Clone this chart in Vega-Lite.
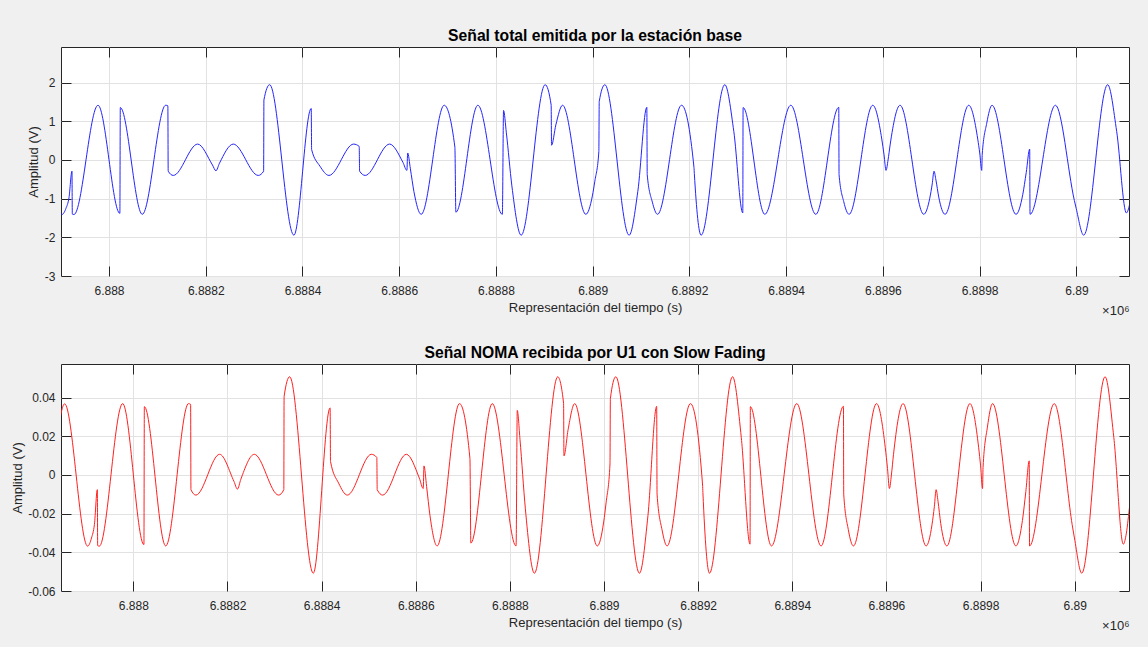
{
  "$schema": "https://vega.github.io/schema/vega-lite/v6.json",
  "background": "#f0f0f0",
  "padding": {"left": 10, "top": 27, "right": 20, "bottom": 14},
  "spacing": 26,
  "config": {
    "font": "Liberation Sans",
    "view": {"fill": "white", "stroke": "#262626", "strokeWidth": 1},
    "axis": {
      "labelFont": "Liberation Sans", "labelFontSize": 12, "labelColor": "#262626",
      "titleFont": "Liberation Sans", "titleFontSize": 13, "titleFontWeight": "normal", "titleColor": "#262626",
      "gridColor": "#e2e2e2", "gridWidth": 1, "tickColor": "#262626", "tickWidth": 1, "domain": false
    },
    "title": {"font": "Liberation Sans", "fontSize": 15.7, "fontWeight": "bold", "color": "#000000", "offset": 2}
  },
  "datasets": {
    "sig": [
      {"t": 6.88784, "a": 0.88, "b": 0.023},
      {"t": 6.887854, "a": 1.41, "b": 0.0368},
      {"t": 6.8879029, "a": -1.41, "b": -0.0368},
      {"t": 6.8879111, "a": -1.25, "b": -0.0326},
      {"t": 6.8879173, "a": -0.98, "b": -0.0256},
      {"t": 6.8879235, "a": -0.29, "b": -0.0076},
      {"t": 6.8879242, "a": -1.4, "b": -0.0365},
      {"t": 6.8879277, "a": -1.41, "b": -0.0368},
      {"t": 6.8879773, "a": 1.414, "b": 0.0369},
      {"t": 6.8880225, "a": -1.38, "b": -0.036},
      {"t": 6.8880234, "a": 1.354, "b": 0.0353},
      {"t": 6.8880688, "a": -1.405, "b": -0.0367},
      {"t": 6.8881172, "a": 1.414, "b": 0.0369},
      {"t": 6.8881217, "a": 1.4, "b": 0.0365},
      {"t": 6.8881224, "a": -0.29, "b": -0.0076},
      {"t": 6.8881329, "a": -0.4, "b": -0.0104},
      {"t": 6.8881833, "a": 0.41, "b": 0.0107},
      {"t": 6.8882139, "a": -0.13, "b": -0.0034},
      {"t": 6.8882211, "a": -0.28, "b": -0.0073},
      {"t": 6.8882284, "a": -0.085, "b": -0.0022},
      {"t": 6.8882569, "a": 0.41, "b": 0.0107},
      {"t": 6.8883086, "a": -0.4, "b": -0.0104},
      {"t": 6.8883197, "a": -0.29, "b": -0.0076},
      {"t": 6.8883203, "a": 1.55, "b": 0.0405},
      {"t": 6.8883321, "a": 1.945, "b": 0.0508},
      {"t": 6.8883823, "a": -1.945, "b": -0.0508},
      {"t": 6.8884181, "a": 1.33, "b": 0.0347},
      {"t": 6.8884189, "a": 0.27, "b": 0.007},
      {"t": 6.8884361, "a": -0.16, "b": -0.0042},
      {"t": 6.8884547, "a": -0.4, "b": -0.0104},
      {"t": 6.8885057, "a": 0.41, "b": 0.0107},
      {"t": 6.8885173, "a": 0.35, "b": 0.0091},
      {"t": 6.8885181, "a": -0.29, "b": -0.0076},
      {"t": 6.8885297, "a": -0.4, "b": -0.0104},
      {"t": 6.8885801, "a": 0.41, "b": 0.0107},
      {"t": 6.8886076, "a": -0.06, "b": -0.0016},
      {"t": 6.8886159, "a": -0.27, "b": -0.007},
      {"t": 6.8886175, "a": 0.18, "b": 0.0047},
      {"t": 6.8886231, "a": -0.23, "b": -0.006},
      {"t": 6.8886303, "a": -0.81, "b": -0.0211},
      {"t": 6.8886454, "a": -1.405, "b": -0.0367},
      {"t": 6.888693, "a": 1.414, "b": 0.0369},
      {"t": 6.8887151, "a": 0.33, "b": 0.0086},
      {"t": 6.8887171, "a": -1.35, "b": -0.0352},
      {"t": 6.8887626, "a": 1.414, "b": 0.0369},
      {"t": 6.8888132, "a": -1.405, "b": -0.0367},
      {"t": 6.8888157, "a": 1.28, "b": 0.0334},
      {"t": 6.8888215, "a": 0.7, "b": 0.0183},
      {"t": 6.8888329, "a": -0.67, "b": -0.0175},
      {"t": 6.8888521, "a": -1.945, "b": -0.0508},
      {"t": 6.8889017, "a": 1.945, "b": 0.0508},
      {"t": 6.8889141, "a": 1.42, "b": 0.0371},
      {"t": 6.8889149, "a": 0.38, "b": 0.0099},
      {"t": 6.8889238, "a": 0.905, "b": 0.0236},
      {"t": 6.8889377, "a": 1.414, "b": 0.0369},
      {"t": 6.8889858, "a": -1.405, "b": -0.0367},
      {"t": 6.8889993, "a": -0.93, "b": -0.0243},
      {"t": 6.8890044, "a": -0.55, "b": -0.0144},
      {"t": 6.8890127, "a": 0.22, "b": 0.0057},
      {"t": 6.8890135, "a": 1.51, "b": 0.0394},
      {"t": 6.8890251, "a": 1.945, "b": 0.0508},
      {"t": 6.8890753, "a": -1.945, "b": -0.0508},
      {"t": 6.8890933, "a": -0.81, "b": -0.0211},
      {"t": 6.8891119, "a": 1.36, "b": 0.0355},
      {"t": 6.8891127, "a": -0.38, "b": -0.0099},
      {"t": 6.8891233, "a": -1.09, "b": -0.0284},
      {"t": 6.889134, "a": -1.405, "b": -0.0367},
      {"t": 6.8891836, "a": 1.414, "b": 0.0369},
      {"t": 6.8892094, "a": -0.2, "b": -0.0052},
      {"t": 6.8892101, "a": -0.35, "b": -0.0091},
      {"t": 6.8892241, "a": -1.945, "b": -0.0508},
      {"t": 6.8892731, "a": 1.945, "b": 0.0508},
      {"t": 6.8892917, "a": 0.74, "b": 0.0193},
      {"t": 6.8893103, "a": -1.37, "b": -0.0358},
      {"t": 6.8893109, "a": 1.354, "b": 0.0353},
      {"t": 6.8893558, "a": -1.405, "b": -0.0367},
      {"t": 6.8894095, "a": 1.414, "b": 0.0369},
      {"t": 6.8894612, "a": -1.405, "b": -0.0367},
      {"t": 6.8895087, "a": 1.36, "b": 0.0355},
      {"t": 6.8895093, "a": -0.38, "b": -0.0099},
      {"t": 6.889519, "a": -1.08, "b": -0.0282},
      {"t": 6.88953, "a": -1.405, "b": -0.0367},
      {"t": 6.889579, "a": 1.414, "b": 0.0369},
      {"t": 6.8895976, "a": 0.54, "b": 0.0141},
      {"t": 6.8896023, "a": 0.13, "b": 0.0034},
      {"t": 6.8896064, "a": -0.27, "b": -0.007},
      {"t": 6.8896106, "a": 0.0, "b": 0.0},
      {"t": 6.8896151, "a": 0.41, "b": 0.0107},
      {"t": 6.8896354, "a": 1.414, "b": 0.0369},
      {"t": 6.8896844, "a": -1.405, "b": -0.0367},
      {"t": 6.8896968, "a": -0.99, "b": -0.0258},
      {"t": 6.8897019, "a": -0.62, "b": -0.0162},
      {"t": 6.8897056, "a": -0.29, "b": -0.0076},
      {"t": 6.8897096, "a": -0.52, "b": -0.0136},
      {"t": 6.8897154, "a": -0.96, "b": -0.0251},
      {"t": 6.8897284, "a": -1.405, "b": -0.0367},
      {"t": 6.8897774, "a": 1.414, "b": 0.0369},
      {"t": 6.889796, "a": 0.54, "b": 0.0141},
      {"t": 6.8898001, "a": 0.18, "b": 0.0047},
      {"t": 6.8898042, "a": -0.27, "b": -0.007},
      {"t": 6.8898053, "a": 0.15, "b": 0.0039},
      {"t": 6.8898146, "a": 0.95, "b": 0.0248},
      {"t": 6.8898255, "a": 1.414, "b": 0.0369},
      {"t": 6.8898751, "a": -1.405, "b": -0.0367},
      {"t": 6.889889, "a": -0.9, "b": -0.0235},
      {"t": 6.8898962, "a": -0.33, "b": -0.0086},
      {"t": 6.8899034, "a": 0.28, "b": 0.0073},
      {"t": 6.8899041, "a": -1.405, "b": -0.0367},
      {"t": 6.8899566, "a": 1.414, "b": 0.0369},
      {"t": 6.8899958, "a": -1.05, "b": -0.0274},
      {"t": 6.8899995, "a": -1.25, "b": -0.0326},
      {"t": 6.890015, "a": -1.945, "b": -0.0508},
      {"t": 6.8900646, "a": 1.945, "b": 0.0508},
      {"t": 6.8900832, "a": 0.74, "b": 0.0193},
      {"t": 6.8901033, "a": -1.37, "b": -0.0358},
      {"t": 6.890109, "a": -1.2, "b": -0.0313},
      {"t": 6.890116, "a": -0.68, "b": -0.0177},
      {"t": 6.890121, "a": -0.25, "b": -0.0065}
    ]
  },
  "vconcat": [
    {
      "width": 1068,
      "height": 229,
      "title": {"text": "Señal total emitida por la estación base"},
      "data": {"name": "sig"},
      "layer": [
        {
          "mark": {"type": "line", "interpolate": "monotone", "clip": true, "color": "#2424ff", "strokeWidth": 1},
          "encoding": {
            "x": {
              "field": "t", "type": "quantitative",
              "scale": {"domain": [6.8879008, 6.8901087], "nice": false, "zero": false},
              "axis": {
                "orient": "bottom",
                "values": [6.888, 6.8882, 6.8884, 6.8886, 6.8888, 6.889, 6.8892, 6.8894, 6.8896, 6.8898, 6.89],
                "format": "~g", "tickSize": -10, "labelPadding": 19, "grid": true,
                "title": "Representación del tiempo (s)", "titlePadding": 5
              }
            },
            "y": {
              "field": "a", "type": "quantitative",
              "scale": {"domain": [-3, 2.92], "nice": false, "zero": false},
              "axis": {
                "orient": "left",
                "values": [-3, -2, -1, 0, 1, 2],
                "labelExpr": "replace(datum.label, '−', '-')",
                "tickSize": -10, "labelPadding": 16, "grid": true,
                "title": "Amplitud (V)", "titleX": -27.5, "titleBaseline": "middle"
              }
            }
          }
        },
        {
          "mark": {"type": "line", "opacity": 0},
          "encoding": {
            "x": {
              "field": "t", "type": "quantitative",
              "scale": {"domain": [6.8879008, 6.8901087], "nice": false, "zero": false},
              "axis": {
                "orient": "top",
                "values": [6.888, 6.8882, 6.8884, 6.8886, 6.8888, 6.889, 6.8892, 6.8894, 6.8896, 6.8898, 6.89],
                "labels": false, "tickSize": -10, "grid": false, "title": null
              }
            },
            "y": {
              "field": "a", "type": "quantitative",
              "scale": {"domain": [-3, 2.92], "nice": false, "zero": false},
              "axis": {
                "orient": "right",
                "values": [-3, -2, -1, 0, 1, 2],
                "labels": false, "tickSize": -10, "grid": false, "title": null
              }
            }
          }
        },
        {
          "mark": {"type": "line", "opacity": 0},
          "encoding": {
            "x": {
              "field": "t", "type": "quantitative",
              "scale": {"domain": [6.8879008, 6.8901087], "nice": false, "zero": false},
              "axis": {
                "orient": "bottom", "labels": false, "ticks": false, "grid": false,
                "title": "×10⁶", "titleAnchor": "end", "titleAlign": "right",
                "titleX": 1068, "titleY": 34, "titleBaseline": "middle"
              }
            },
            "y": {
              "field": "a", "type": "quantitative",
              "scale": {"domain": [-3, 2.92], "nice": false, "zero": false},
              "axis": null
            }
          }
        }
      ],
      "resolve": {"axis": {"x": "independent", "y": "independent"}}
    },
    {
      "width": 1068,
      "height": 227,
      "title": {"text": "Señal NOMA recibida por U1 con Slow Fading"},
      "data": {"name": "sig"},
      "layer": [
        {
          "mark": {"type": "line", "interpolate": "monotone", "clip": true, "color": "#ff2020", "strokeWidth": 1},
          "encoding": {
            "x": {
              "field": "t", "type": "quantitative",
              "scale": {"domain": [6.8878463, 6.8901154], "nice": false, "zero": false},
              "axis": {
                "orient": "bottom",
                "values": [6.888, 6.8882, 6.8884, 6.8886, 6.8888, 6.889, 6.8892, 6.8894, 6.8896, 6.8898, 6.89],
                "format": "~g", "tickSize": -10, "labelPadding": 19, "grid": true,
                "title": "Representación del tiempo (s)", "titlePadding": 5
              }
            },
            "y": {
              "field": "b", "type": "quantitative",
              "scale": {"domain": [-0.06, 0.0574], "nice": false, "zero": false},
              "axis": {
                "orient": "left",
                "values": [-0.06, -0.04, -0.02, 0, 0.02, 0.04],
                "format": "~g",
                "labelExpr": "replace(datum.label, '−', '-')",
                "tickSize": -10, "labelPadding": 16, "grid": true,
                "title": "Amplitud (V)", "titleX": -43.7, "titleBaseline": "middle"
              }
            }
          }
        },
        {
          "mark": {"type": "line", "opacity": 0},
          "encoding": {
            "x": {
              "field": "t", "type": "quantitative",
              "scale": {"domain": [6.8878463, 6.8901154], "nice": false, "zero": false},
              "axis": {
                "orient": "top",
                "values": [6.888, 6.8882, 6.8884, 6.8886, 6.8888, 6.889, 6.8892, 6.8894, 6.8896, 6.8898, 6.89],
                "labels": false, "tickSize": -10, "grid": false, "title": null
              }
            },
            "y": {
              "field": "b", "type": "quantitative",
              "scale": {"domain": [-0.06, 0.0574], "nice": false, "zero": false},
              "axis": {
                "orient": "right",
                "values": [-0.06, -0.04, -0.02, 0, 0.02, 0.04],
                "labels": false, "tickSize": -10, "grid": false, "title": null
              }
            }
          }
        },
        {
          "mark": {"type": "line", "opacity": 0},
          "encoding": {
            "x": {
              "field": "t", "type": "quantitative",
              "scale": {"domain": [6.8878463, 6.8901154], "nice": false, "zero": false},
              "axis": {
                "orient": "bottom", "labels": false, "ticks": false, "grid": false,
                "title": "×10⁶", "titleAnchor": "end", "titleAlign": "right",
                "titleX": 1068, "titleY": 34, "titleBaseline": "middle"
              }
            },
            "y": {
              "field": "b", "type": "quantitative",
              "scale": {"domain": [-0.06, 0.0574], "nice": false, "zero": false},
              "axis": null
            }
          }
        }
      ],
      "resolve": {"axis": {"x": "independent", "y": "independent"}}
    }
  ]
}
